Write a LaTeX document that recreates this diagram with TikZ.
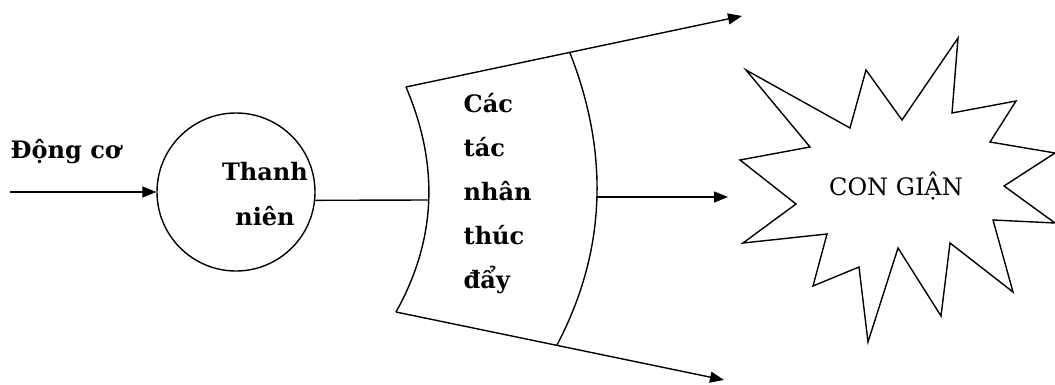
\documentclass[tikz,border=0pt]{standalone}
\usepackage{fontspec}
\setmainfont{DejaVu Serif}
\usetikzlibrary{arrows.meta}
\begin{document}
\begin{tikzpicture}[x=1pt,y=-1pt,line width=1.4pt,
  arr/.style={-{Triangle[length=14pt,width=11pt]}},
  lbl/.style={font=\bfseries\fontsize{24}{44}\selectfont,inner sep=0pt},
  plain/.style={font=\fontsize{24}{30}\selectfont,inner sep=0pt}]
\useasboundingbox (0,0) rectangle (1055,385);
% left arrow and label
\coordinate (dcstart) at (10,192);
\node[lbl,anchor=base west] (dc) at (10,159) {Động cơ};
\node[circle,draw,minimum size=158pt,inner sep=0pt] (tn) at (236,192) {};
\node[lbl,align=center,anchor=base,font=\bfseries\fontsize{24}{45}\selectfont] (tnt) at (265,225) {Thanh\\niên};
\draw[arr] (dcstart) -- (tn.west);
% fan shape
\coordinate (TL) at (406,87);
\coordinate (BL) at (396,312);
\coordinate (TR) at (570,53);
\coordinate (BR) at (557,345);
\coordinate (TA) at (742,16);
\coordinate (BA) at (724,380);
\coordinate (lmid) at (428,200);
\coordinate (rmid) at (597,197);
\coordinate (midtip) at (728,197);
\draw (TL) .. controls (438,162) and (438,237) .. (BL);
\draw (TR) .. controls (608,150) and (608,248) .. (BR);
\draw[arr] (TL) -- (TA);
\draw[arr] (BL) -- (BA);
\draw (tn.-6) -- (lmid);
\draw[arr] (rmid) -- (midtip);
\node[lbl,align=left,anchor=base west] (ctn) at (463,288) {Các\\tác\\nhân\\thúc\\đẩy};
% starburst
\draw[line join=miter] (746,70) -- (850,128) -- (866,70) -- (902,120) -- (958,38) -- (952,113)
  -- (1016,101) -- (990,142) -- (1055,153) -- (1004,186) -- (1055,223) -- (993,220)
  -- (1013,292) -- (950,243) -- (941,316) -- (898,248) -- (868,342) -- (859,267)
  -- (813,286) -- (827,234) -- (743,243) -- (796,204) -- (740,160) -- (810,147) -- cycle;
\node[plain,anchor=base] (cg) at (896,196) {CON GIẬN};
\end{tikzpicture}
\end{document}
